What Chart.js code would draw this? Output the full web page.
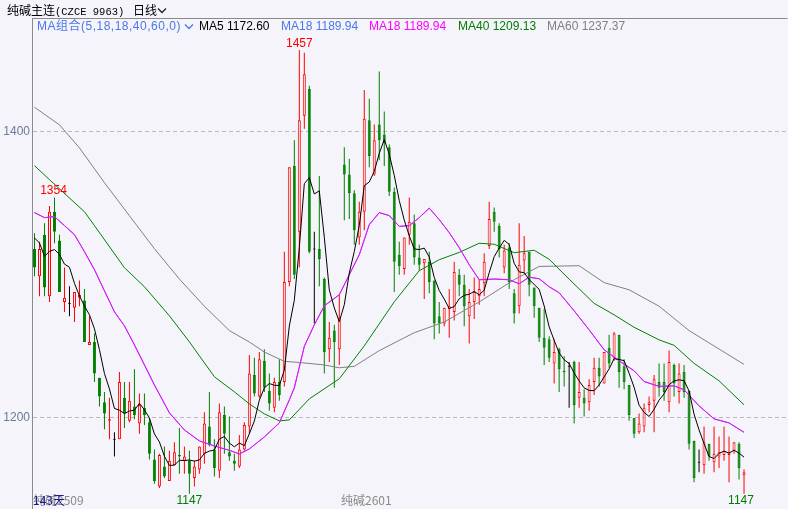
<!DOCTYPE html>
<html lang="zh-CN">
<head>
<meta charset="utf-8">
<title>纯碱主连 日线</title>
<script src="https://cdn.jsdelivr.net/npm/chart.js@4.4.1/dist/chart.umd.min.js"></script>
<style>
html,body{margin:0;padding:0;background:#f4f4fa;width:788px;height:509px;overflow:hidden;}
#wrap{position:relative;width:788px;height:509px;}
canvas{position:absolute;left:0;top:0;}
.t{position:absolute;white-space:nowrap;font-size:12px;line-height:14px;font-family:"Liberation Sans",Arial,sans-serif;}
.cjk{font-family:"Noto Sans CJK SC","Liberation Sans",sans-serif;}
.mix{font-family:"Liberation Sans","Noto Sans CJK SC",sans-serif;letter-spacing:0.5px;}
.mono{font-family:"Liberation Mono",monospace;font-size:10.5px;}
svg.chev{position:absolute;}
</style>
</head>
<body>
<div id="wrap">
<canvas id="c" width="788" height="509"></canvas>
</div>
<script>
// ---------------- data ----------------
const dayCount = "143天";
const contractStart = "纯碱2509";
const contractMid = "纯碱2601";
const title = "纯碱主连";
const titleCode = "(CZCE 9963)";
const period = "日线";
const maGroup = "MA组合(5,18,18,40,60,0)";

const opens = [1318,1299,1328,1285,1344,1324,1281,1280,1277,1284,
1282,1251,1253,1228,1211,1198,1185,1185,1214,1198,
1208,1196,1207,1197,1171,1152,1166,1156,1167,1174,
1170,1170,1158,1164,1175,1194,1178,1163,1202,1176,
1170,1166,1178,1194,1230,1215,1240,1219,1207,1225,
1225,1295,1376,1330,1411,1430,1318,1318,1297,1248,
1261,1248,1377,1370,1357,1326,1344,1408,1370,1405,
1398,1389,1358,1314,1304,1328,1336,1312,1308,1309,
1296,1271,1266,1276,1274,1300,1293,1271,1281,1285,
1294,1320,1344,1334,1305,1319,1287,1278,1310,1316,
1291,1277,1256,1255,1238,1248,1233,1236,1239,1214,
1214,1211,1225,1235,1224,1249,1242,1258,1236,1223,
1200,1190,1194,1209,1212,1225,1225,1211,1237,1218,
1232,1219,1184,1169,1167,1182,1169,1173,1174,1174,
1177,1182,1160];

const highs = [1329,1323,1336,1348,1354,1328,1305,1292,1288,1296,
1290,1271,1259,1228,1218,1214,1190,1232,1225,1225,
1234,1217,1217,1200,1178,1175,1180,1177,1183,1193,
1180,1177,1170,1180,1204,1218,1185,1210,1208,1201,
1175,1188,1197,1244,1242,1246,1248,1231,1228,1241,
1316,1375,1394,1457,1455,1432,1330,1369,1298,1267,
1265,1286,1389,1381,1359,1351,1429,1423,1405,1442,
1414,1391,1361,1323,1326,1354,1342,1321,1311,1316,
1296,1281,1277,1290,1309,1304,1300,1290,1298,1297,
1315,1351,1347,1336,1321,1322,1290,1336,1327,1316,
1291,1277,1276,1257,1255,1249,1243,1239,1240,1239,
1220,1227,1242,1242,1246,1258,1260,1258,1241,1223,
1200,1203,1210,1215,1230,1238,1238,1247,1238,1238,
1237,1219,1184,1178,1194,1182,1194,1187,1194,1187,
1183,1183,1164];

const lows = [1299,1285,1285,1281,1322,1288,1274,1271,1267,1278,
1253,1251,1225,1208,1192,1185,1173,1185,1193,1197,
1199,1189,1195,1171,1154,1151,1158,1156,1167,1161,
1161,1147,1152,1161,1168,1180,1159,1158,1175,1170,
1163,1165,1177,1189,1215,1214,1218,1205,1204,1212,
1222,1292,1297,1305,1402,1315,1266,1292,1231,1239,
1221,1237,1338,1339,1321,1321,1331,1375,1369,1380,
1376,1355,1288,1300,1300,1321,1307,1303,1283,1287,
1255,1259,1264,1256,1268,1285,1264,1252,1269,1279,
1285,1318,1330,1312,1301,1290,1266,1273,1301,1285,
1270,1253,1237,1239,1224,1218,1222,1207,1196,1207,
1201,1205,1216,1222,1224,1235,1240,1221,1220,1198,
1186,1189,1190,1204,1190,1215,1212,1204,1215,1210,
1214,1178,1155,1162,1161,1170,1162,1165,1170,1155,
1175,1157,1147];

const closes = [1305,1318,1291,1344,1330,1288,1284,1280,1288,1286,
1253,1253,1231,1215,1203,1199,1185,1225,1203,1212,
1202,1209,1202,1175,1156,1174,1159,1170,1176,1173,
1173,1161,1166,1180,1196,1181,1165,1204,1189,1173,
1168,1178,1195,1231,1217,1241,1221,1210,1225,1216,
1295,1375,1300,1408,1440,1316,1318,1311,1246,1256,
1253,1270,1370,1357,1331,1344,1409,1383,1394,1394,
1392,1358,1309,1306,1326,1337,1312,1307,1311,1295,
1266,1266,1277,1278,1302,1293,1278,1281,1288,1290,
1309,1339,1337,1318,1317,1295,1273,1307,1315,1293,
1278,1256,1249,1242,1246,1234,1232,1236,1209,1218,
1210,1223,1235,1229,1246,1238,1259,1232,1225,1202,
1189,1196,1207,1211,1227,1221,1218,1239,1224,1231,
1218,1182,1158,1169,1183,1173,1175,1176,1177,1176,
1183,1165,1162];

// closes of the 4 sessions before the window (needed for the first MA5 values)
const preCloses = [1335.5,1337.6,1326.8,1323.6];

// longer moving averages: [day index, value]
const ma18Points = [[0,1343.4],[2,1339.9],[4,1340.6],[6,1334.3],[8,1328],[10,1316.1],[12,1303.5],[14,1288.8],[16,1274.1],[18,1264.3],[20,1251],[22,1237],[24,1223],[27,1203.5],[30,1191.6],[33,1183.9],[36,1180.4],[39,1177.3],[41,1174.8],[43,1178.3],[46,1186.7],[49,1196.5],[51,1212.6],[52,1221],[54,1250],[56,1265],[58,1278.3],[61,1286],[63,1300],[65,1314],[67,1335],[69,1343.4],[71,1341.3],[73,1333.8],[75,1334.3],[77,1339.9],[79,1346.5],[81,1338.5],[83,1329.4],[85,1318.9],[87,1307],[89,1296.5],[92,1297],[95,1296.5],[97,1293.7],[99,1298.3],[101,1297.2],[103,1291.6],[105,1287.4],[108,1274.8],[111,1261.5],[114,1247.6],[117,1239.9],[120,1232.9],[122,1225.4],[125,1222],[128,1222.4],[130,1219.6],[133,1208.4],[136,1199.3],[139,1196.5],[142,1189.94]];
const ma40Points = [[0,1376.2],[3,1366.4],[10,1344],[12,1334.3],[18,1304.9],[22,1291.6],[27,1271.3],[31,1253.1],[36,1228.7],[40,1218.2],[43,1209.8],[46,1202.8],[49,1197.9],[51,1198.6],[55,1213.3],[61,1227.3],[66,1250.3],[72,1281.1],[77,1302.8],[81,1310.5],[85,1315.6],[89,1322],[92,1321.3],[96,1315.4],[100,1317.1],[103,1310.8],[107,1296.9],[112,1280],[116,1272],[120,1263.3],[125,1254.5],[128,1250.7],[132,1238.1],[137,1225.9],[142,1209.13]];
const ma60Points = [[0,1417],[5,1404.7],[9,1388.6],[14,1364.3],[19,1341.2],[24,1318.2],[29,1297],[34,1278],[39,1261],[43,1253],[46,1246],[50,1239.5],[53,1238.7],[58,1237],[61,1235],[64,1236],[69,1247],[76,1259.5],[82,1267],[89,1281],[96,1296.5],[101,1305.8],[109,1306.3],[114,1294.5],[119,1289.5],[125,1278],[131,1261],[142,1237.37]];

const yTickValues = [1200, 1400];

// ---------------- derived ----------------
const n = closes.length;
const allCloses = preCloses.concat(closes);
const ma5 = closes.map((c, i) => {
  let s = 0; for (let k = 0; k < 5; k++) s += allCloses[i + 4 - k];
  return s / 5;
});

const RED = '#ff0000', GREEN = '#008000', BLACK = '#000000', BG = '#f4f4fa';
const BLUE = '#4a78e8', MAGENTA = '#ff00ff', GRAY = '#808080';

const bodyData = [], wickData = [], bodyFill = [], bodyLine = [], wickColor = [];
for (let i = 0; i < n; i++) {
  const o = opens[i], c = closes[i];
  let col;
  if (c > o) { col = RED; bodyFill.push(BG); }
  else if (c < o) { col = GREEN; bodyFill.push(GREEN); }
  else { col = BLACK; bodyFill.push(BLACK); }
  bodyLine.push(col); wickColor.push(col);
  const lo = Math.min(o, c), hi = Math.max(o, c);
  bodyData.push({x: i, y: hi - lo < 0.7 ? [lo - 0.35, hi + 0.35] : [lo, hi]});
  wickData.push({x: i, y: [lows[i], highs[i]]});
}
const toXY = pts => pts.map(p => ({x: p[0], y: p[1]}));

const lineDs = (label, data, color, order) => ({
  type: 'line', label, data, borderColor: color, borderWidth: 1,
  pointRadius: 0, tension: 0, fill: false, order
});

const frame = {
  id: 'frame',
  beforeDraw(chart) {
    const {ctx, chartArea: a} = chart;
    ctx.save();
    ctx.strokeStyle = '#8a8a8a'; ctx.lineWidth = 1;
    ctx.beginPath(); ctx.moveTo(a.left, a.top + 0.5); ctx.lineTo(a.right, a.top + 0.5); ctx.stroke();
    ctx.restore();
  }
};

const chart = new Chart(document.getElementById('c'), {
  type: 'bar',
  data: {
    datasets: [
      lineDs('MA5', ma5.map((v, i) => ({x: i, y: v})), BLACK, 0),
      lineDs('MA18', toXY(ma18Points), MAGENTA, 1),
      lineDs('MA18b', toXY(ma18Points), BLUE, 2),
      lineDs('MA40', toXY(ma40Points), GREEN, 3),
      lineDs('MA60', toXY(ma60Points), GRAY, 4),
      {type: 'bar', label: 'body', data: bodyData, backgroundColor: bodyFill, borderColor: bodyLine,
       borderWidth: 1, borderSkipped: false, barThickness: 3, grouped: false, inflateAmount: 0, order: 5},
      {type: 'bar', label: 'wick', data: wickData, backgroundColor: wickColor, borderWidth: 0,
       barThickness: 1, grouped: false, inflateAmount: 0, order: 6}
    ]
  },
  options: {
    responsive: false, animation: false, devicePixelRatio: 1,
    layout: {padding: {top: 18, left: 0, right: 0, bottom: 0}},
    plugins: {legend: {display: false}, tooltip: {enabled: false}},
    events: [],
    scales: {
      x: {type: 'linear', display: false, min: -0.5, max: 150.7, offset: false},
      y: {
        position: 'left', min: 1136.71, max: 1479.34,
        afterFit: s => { s.width = 32; s.paddingTop = 0; s.paddingBottom = 0; },
        afterBuildTicks: s => { s.ticks = yTickValues.map(v => ({value: v})); },
        ticks: {color: '#6b7a99', padding: 2, font: {family: 'Liberation Sans', size: 12}, callback: v => String(v)},
        grid: {color: '#b9b9c0', drawTicks: false, lineWidth: 1},
        border: {display: true, color: '#8a8a8a', width: 1, dash: [4, 3]}
      }
    }
  },
  plugins: [frame]
});

// pin the price / day mapping so that 1400 and 1200 and the candle pitch sit as in the picture
(function pin() {
  const a = chart.chartArea;
  const ppu = (418.3 - 131.7) / 200;
  chart.options.scales.y.max = 1400 + (131.7 - a.top) / ppu;
  chart.options.scales.y.min = 1400 - (a.bottom - 131.7) / ppu;
  const xmin = (a.left - 34.5) / 5;
  chart.options.scales.x.min = xmin;
  chart.options.scales.x.max = xmin + (a.right - a.left) / 5;
  chart.update('none');
})();

// ---------------- text ----------------
const wrap = document.getElementById('wrap');
function addText(txt, x, y, color, cls, align) {
  const d = document.createElement('div');
  d.className = 't ' + (cls || '');
  d.textContent = txt;
  d.style.color = color;
  d.style.top = y + 'px';
  wrap.appendChild(d);
  const w = d.getBoundingClientRect().width;
  let left = x;
  if (align === 'center') left = x - w / 2;
  else if (align === 'right') left = x - w;
  d.style.left = left + 'px';
  return d;
}
function chevron(x, y, color) {
  const s = document.createElementNS('http://www.w3.org/2000/svg', 'svg');
  s.setAttribute('class', 'chev'); s.setAttribute('width', '10'); s.setAttribute('height', '8');
  s.style.left = x + 'px'; s.style.top = y + 'px';
  s.innerHTML = '<polyline points="1,1.5 5,5.5 9,1.5" fill="none" stroke="' + color + '" stroke-width="1.3"/>';
  wrap.appendChild(s);
}

// header
const hdr = addText(title, 7, 3, '#000', 'cjk');
const codeSpan = document.createElement('span'); codeSpan.className = 'mono'; codeSpan.textContent = titleCode;
hdr.appendChild(codeSpan);
addText(period, 133, 3, '#000', 'cjk');
chevron(157, 7, '#222');

// MA legend
const last = arr => arr[arr.length - 1];
addText(maGroup, 37, 19, BLUE, 'mix');
chevron(184, 23, BLUE);
addText('MA5 ' + last(ma5).toFixed(2), 199, 19, '#000');
addText('MA18 ' + last(ma18Points)[1].toFixed(2), 281, 19, BLUE);
addText('MA18 ' + last(ma18Points)[1].toFixed(2), 369, 19, MAGENTA);
addText('MA40 ' + last(ma40Points)[1].toFixed(2), 458, 19, GREEN);
addText('MA60 ' + last(ma60Points)[1].toFixed(2), 547, 19, GRAY);

// extreme labels
const xs = chart.scales.x, ys = chart.scales.y;
let hiIdx = 0, loIdx = 0;
highs.forEach((v, i) => { if (v > highs[hiIdx]) hiIdx = i; });
lows.forEach((v, i) => { if (v < lows[loIdx]) loIdx = i; });
addText(String(highs[hiIdx]), xs.getPixelForValue(hiIdx), ys.getPixelForValue(highs[hiIdx]) - 14, RED, '', 'center');
// local high at the start of the window
let h0 = 0; for (let i = 0; i < 10; i++) if (highs[i] > highs[h0]) h0 = i;
addText(String(highs[h0]), xs.getPixelForValue(h0) - 1, ys.getPixelForValue(highs[h0]) - 14, RED, '', 'center');
// lows of 1147 (both occurrences)
const lowVal = lows[loIdx];
lows.forEach((v, i) => {
  if (v === lowVal) {
    const px = Math.min(xs.getPixelForValue(i), 741);
    addText(String(v), px, 493, GREEN, '', 'center');
  }
});

// bottom labels
addText(contractStart, 33, 493, '#8a8a8a', 'cjk');
addText(dayCount, 33, 493, '#1a1a8c', 'cjk');
addText(contractMid, 341, 493, '#8a8a8a', 'cjk');
</script>
</body>
</html>
